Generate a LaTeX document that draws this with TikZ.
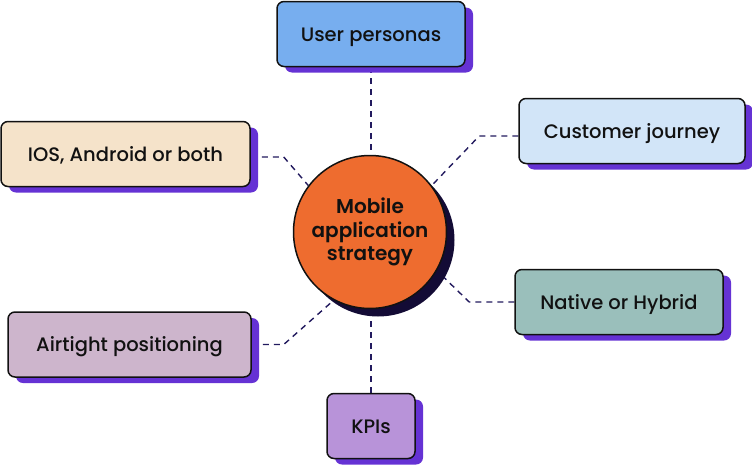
\documentclass[tikz,border=0pt]{standalone}
\usepackage{fontspec}
\setmainfont{Poppins}[UprightFont={* Medium},BoldFont={* SemiBold}]
\usetikzlibrary{positioning,shadows,backgrounds}
\definecolor{hubfill}{HTML}{EE6C2F}
\definecolor{hubshade}{HTML}{130B35}
\definecolor{boxshade}{HTML}{6532D4}
\definecolor{linkdash}{HTML}{221A5E}
\definecolor{outline}{HTML}{111111}
\definecolor{personafill}{HTML}{77AEEF}
\definecolor{platformfill}{HTML}{F5E3CA}
\definecolor{journeyfill}{HTML}{D2E5F8}
\definecolor{nativefill}{HTML}{9ABFBB}
\definecolor{positionfill}{HTML}{CDB5CC}
\definecolor{kpifill}{HTML}{B893D9}

\tikzset{
  topicbox/.style={draw=outline,line width=1.5pt,rounded corners=7pt,inner sep=0pt,
    minimum height=65pt,text height=14pt,text depth=0pt,text=outline,
    font=\fontsize{19.5}{23}\selectfont,
    drop shadow={shadow xshift=8pt,shadow yshift=-6pt,fill=boxshade,opacity=1}},
  hubnode/.style={circle,draw=outline,line width=1.5pt,fill=hubfill,minimum size=153pt,
    inner sep=0pt,align=center,text=outline,font=\fontsize{20}{23.5}\selectfont\bfseries,
    drop shadow={shadow xshift=8pt,shadow yshift=-8pt,fill=hubshade,opacity=1}},
  link/.style={linkdash,line width=1.4pt,dash pattern=on 6pt off 5pt}
}

\begin{document}
\begin{tikzpicture}[x=1pt,y=-1pt]
    \useasboundingbox (0,0) rectangle (752,466);

    % Centre
    \node[hubnode] (hub) at (370,232) {Mobile\\application\\strategy};

    % Topics
    \node[topicbox,fill=personafill,minimum width=188pt] (persona) at (371,34) {User personas};
    \node[topicbox,fill=platformfill,minimum width=249pt] (platform) at (125.5,154) {IOS, Android or both};
    \node[topicbox,fill=journeyfill,minimum width=226pt] (journey) at (632,131) {Customer journey};
    \node[topicbox,fill=nativefill,minimum width=208pt] (native) at (619,302) {Native or Hybrid};
    \node[topicbox,fill=positionfill,minimum width=243pt] (airtight) at (129.5,344.5) {Airtight positioning};
    \node[topicbox,fill=kpifill,minimum width=88pt] (kpi) at (371,426) {KPIs};

    % Links
    \begin{scope}[on background layer]
        \draw[link] (persona.south) -- (persona.south |- hub.north);
        \draw[link] ([yshift=-3pt]platform.east) -- ++(33,0) -- (hub.143);
        \draw[link] ([yshift=-5pt]journey.west) -- ++(-39,0) -- (hub.37);
        \draw[link] (native.west) -- ++(-45,0) -- (hub.-30);
        \draw[link] (airtight.east) -- ++(32,0) -- (hub.-118);
        \draw[link] (kpi.north) -- (kpi.north |- hub.south);
    \end{scope}
\end{tikzpicture}
\end{document}
